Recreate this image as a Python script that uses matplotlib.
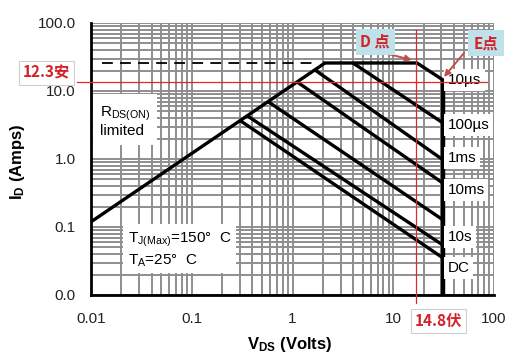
import matplotlib
matplotlib.use('Agg')
import matplotlib.pyplot as plt
from matplotlib.ticker import FixedLocator, FixedFormatter, LogLocator, NullFormatter

plt.rcParams['font.family'] = ['Liberation Sans', 'Noto Sans CJK SC', 'DejaVu Sans']
plt.rcParams['mathtext.fontset'] = 'custom'
plt.rcParams['mathtext.rm'] = 'Liberation Sans'
plt.rcParams['mathtext.it'] = 'Liberation Sans:italic'
plt.rcParams['mathtext.bf'] = 'Liberation Sans:bold'

# axis ticks
x_ticks = [0.01, 0.1, 1, 10, 100]
x_labels = ['0.01', '0.1', '1', '10', '100']
y_ticks = [0.01, 0.1, 1, 10, 100]
y_labels = ['0.0', '0.1', '1.0', '10.0', '100.0']

# RDS(ON) limit line
rds_v = [0.01, 2.1]
rds_i = [0.119, 25.8]

# 10us envelope (flat top, slope to E point) and the vertical BVdss limit
top_v = [2.1, 17.2, 31.2]
top_i = [25.8, 25.8, 14.5]
vlim_v = [31.2, 31.2]
vlim_i = [14.5, 0.01]

# dashed package limit
dash_v = [0.0129, 1.6]
dash_i = [26.0, 26.0]

# pulse lines: start on RDS / top line, end on vertical limit
pulse_start_v = [3.98, 1.67, 1.11, 0.57, 0.353, 0.30]
pulse_start_i = [25.8, 20.4, 13.6, 7.0, 4.34, 3.7]
pulse_end_v = 31.2
pulse_end_i = [3.38, 0.97, 0.44, 0.127, 0.054, 0.035]

# curve labels
curve_names = ['10\u00b5s', '100\u00b5s', '1ms', '10ms', '10s', 'DC']
curve_label_i = [14.5, 3.16, 1.03, 0.35, 0.071, 0.025]

# red markers
mark_i = 13.6
mark_v = 16.8

fig = plt.figure(figsize=(5.3, 3.59), dpi=100)
ax = fig.add_axes([0.1717, 0.1783, 0.7604, 0.7577])
ax.set_xscale('log')
ax.set_yscale('log')
ax.set_xlim(0.01, 100)
ax.set_ylim(0.01, 100)

ax.xaxis.set_major_locator(FixedLocator(x_ticks))
ax.xaxis.set_major_formatter(FixedFormatter(x_labels))
ax.yaxis.set_major_locator(FixedLocator(y_ticks))
ax.yaxis.set_major_formatter(FixedFormatter(y_labels))
for axis in (ax.xaxis, ax.yaxis):
    axis.set_minor_locator(LogLocator(base=10, subs=range(2, 10)))
    axis.set_minor_formatter(NullFormatter())
ax.tick_params(which='both', length=0, labelsize=11, colors='#222222')
ax.tick_params(axis='x', pad=12)
ax.tick_params(axis='y', pad=11)

ax.set_axisbelow(True)
ax.grid(True, which='both', color='#8e8e8e', lw=1.4)
for s in ('top', 'right'):
    ax.spines[s].set_visible(False)
for s in ('left', 'bottom'):
    ax.spines[s].set_linewidth(2.0)
    ax.spines[s].set_zorder(5)

lw = 2.4
ax.plot(rds_v, rds_i, color='black', lw=lw, solid_capstyle='butt', zorder=4)
ax.plot(top_v, top_i, color='black', lw=lw, solid_joinstyle='miter', zorder=4)
ax.plot(vlim_v, vlim_i, color='black', lw=3.2, solid_capstyle='butt', zorder=4)
ax.plot(dash_v, dash_i, color='black', lw=1.3, dashes=(6, 4), zorder=4)
for sv, si, ei in zip(pulse_start_v, pulse_start_i, pulse_end_i):
    ax.plot([sv, pulse_end_v], [si, ei], color='black', lw=lw,
            solid_capstyle='butt', zorder=4)

for name, yi in zip(curve_names, curve_label_i):
    ax.text(34.5, yi, name, fontsize=11, ha='left', va='center', zorder=6,
            bbox=dict(boxstyle='square,pad=0.25', fc='white', ec='none'))

ax.text(0.0122, 3.6, '$\\mathregular{R_{DS(ON)}}$\nlimited', fontsize=11,
        ha='left', va='center', linespacing=1.1, zorder=6,
        bbox=dict(boxstyle='square,pad=0.45', fc='white', ec='none'))
ax.text(0.0231, 0.046,
        '$\\mathregular{T_{J(Max)}}$=150\u00b0  C\n$\\mathregular{T_A}$=25\u00b0  C',
        fontsize=11, ha='left', va='center', linespacing=1.25, zorder=6,
        bbox=dict(boxstyle='square,pad=0.3', fc='white', ec='none'))

ax.set_xlabel('$\\mathbf{V_{DS}}$ (Volts)', fontsize=12, fontweight='bold')
ax.set_ylabel('$\\mathbf{I_D}$ (Amps)', fontsize=12, fontweight='bold')
ax.xaxis.set_label_coords(0.494, -0.147)
ax.yaxis.set_label_coords(-0.16, 0.49)

# red marker lines
red = '#e0282e'
ax.plot([0.00726, 85], [mark_i, mark_i], color=red, lw=0.9, clip_on=False, zorder=7)
ax.plot([mark_v, mark_v], [79, 0.0076], color=red, lw=0.9, clip_on=False, zorder=7)

cjk = ['Noto Sans CJK SC', 'DejaVu Sans']
fig.text(0.087, 0.797, '12.3安', color='#d42027', fontsize=11, fontweight='bold',
         family=cjk, ha='center', va='center',
         bbox=dict(boxstyle='square,pad=0.25', fc='white', ec='#d0d0d0', lw=0.8))
fig.text(0.828, 0.106, '14.8伏', color='#d42027', fontsize=11, fontweight='bold',
         family=cjk, ha='center', va='center',
         bbox=dict(boxstyle='square,pad=0.25', fc='white', ec='#d0d0d0', lw=0.8))
fig.text(0.708, 0.883, 'D 点', color='#d42027', fontsize=11, fontweight='bold',
         family=cjk, ha='center', va='center',
         bbox=dict(boxstyle='square,pad=0.3', fc='#bfe1ea', ec='none'))
fig.text(0.917, 0.880, 'E点', color='#d42027', fontsize=11, fontweight='bold',
         family=cjk, ha='center', va='center',
         bbox=dict(boxstyle='square,pad=0.35', fc='#bfe1ea', ec='none'))

arrow = dict(arrowstyle='-|>', color='#c0504d', lw=1.4, mutation_scale=9,
             shrinkA=0, shrinkB=0)
ax.annotate('', xy=(15.3, 28.6), xytext=(7.38, 37.5), arrowprops=arrow,
            annotation_clip=False, zorder=8)
ax.annotate('', xy=(31.9, 16.1), xytext=(50.4, 36.2), arrowprops=arrow,
            annotation_clip=False, zorder=8)

fig.savefig('out.png', dpi=100, facecolor='white')
